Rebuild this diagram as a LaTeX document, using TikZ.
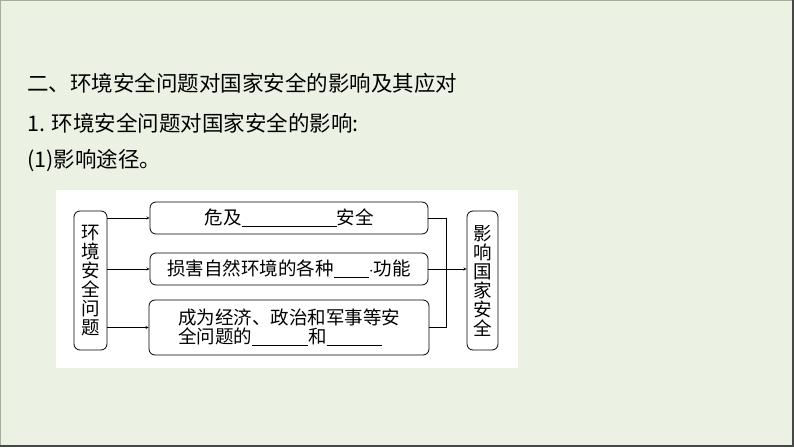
\documentclass[tikz,border=0pt]{standalone}
\usepackage{fontspec}
\newfontfamily\cjk{Noto Sans CJK SC}
\usepackage{xcolor}
\definecolor{slidebg}{HTML}{ECF2E3}
\definecolor{edgelight}{HTML}{A3AD97}
\definecolor{edgedark}{HTML}{474747}
\newcommand{\blank}[1]{\rule[-2pt]{#1}{0.6pt}}

\begin{document}
\begin{tikzpicture}[x=1pt, y=-1pt,
  box/.style = {draw, rounded corners=6pt, line width=0.8pt, inner sep=0pt, font=\cjk\fontsize{18.5}{19}\selectfont},
  head/.style = {anchor=west, inner sep=0pt, font=\cjk\fontsize{21.5}{24}\selectfont}]
\useasboundingbox (0,0) rectangle (794,447);
\fill[slidebg] (0,0) rectangle (794,447);
\draw[edgelight, line width=1.2pt] (0.6,447) -- (0.6,0.6) -- (794,0.6);
\draw[edgedark, line width=1.5pt] (0,446.2) -- (793.2,446.2) -- (793.2,0);
\fill[white] (56,190) rectangle (518,368);

\node[head] (t1) at (27,83) {二、环境安全问题对国家安全的影响及其应对};
\node[head] (t2) at (27,123) {1. 环境安全问题对国家安全的影响:};
\node[head] (t3) at (27,160) {(1)影响途径。};

\node[box, minimum width=33pt, minimum height=139pt, align=center] (env) at (90.5,280.5) {环\\境\\安\\全\\问\\题};
\node[box, minimum width=278pt, minimum height=32pt] (b1) at (289,218) {危及\blank{95pt}安全};
\node[box, minimum width=278pt, minimum height=32pt] (b2) [below of = b1, node distance=51pt] {损害自然环境的各种\blank{35pt}$\cdot$功能};
\node[box, minimum width=280pt, minimum height=55pt, align=left] (b3) [below of = b2, node distance=58.5pt] {成为经济、政治和军事等安\\全问题的\blank{56pt}和\blank{55pt}};
\node[box, minimum width=31pt, minimum height=139pt, align=center] (nat) at (482.5,280.5) {影\\响\\国\\家\\安\\全};

\draw[-stealth] (env.east |- b1.west) -- (b1.west);
\draw[-stealth] (env.east |- b2.west) -- (b2.west);
\draw[-stealth] (env.east |- b3.west) -- (b3.west);
\draw (b1.east) -| ([xshift=17pt]b3.east) -- (b3.east);
\draw[-stealth] (b2.east) -- (b2.east -| nat.west);
\end{tikzpicture}
\end{document}
